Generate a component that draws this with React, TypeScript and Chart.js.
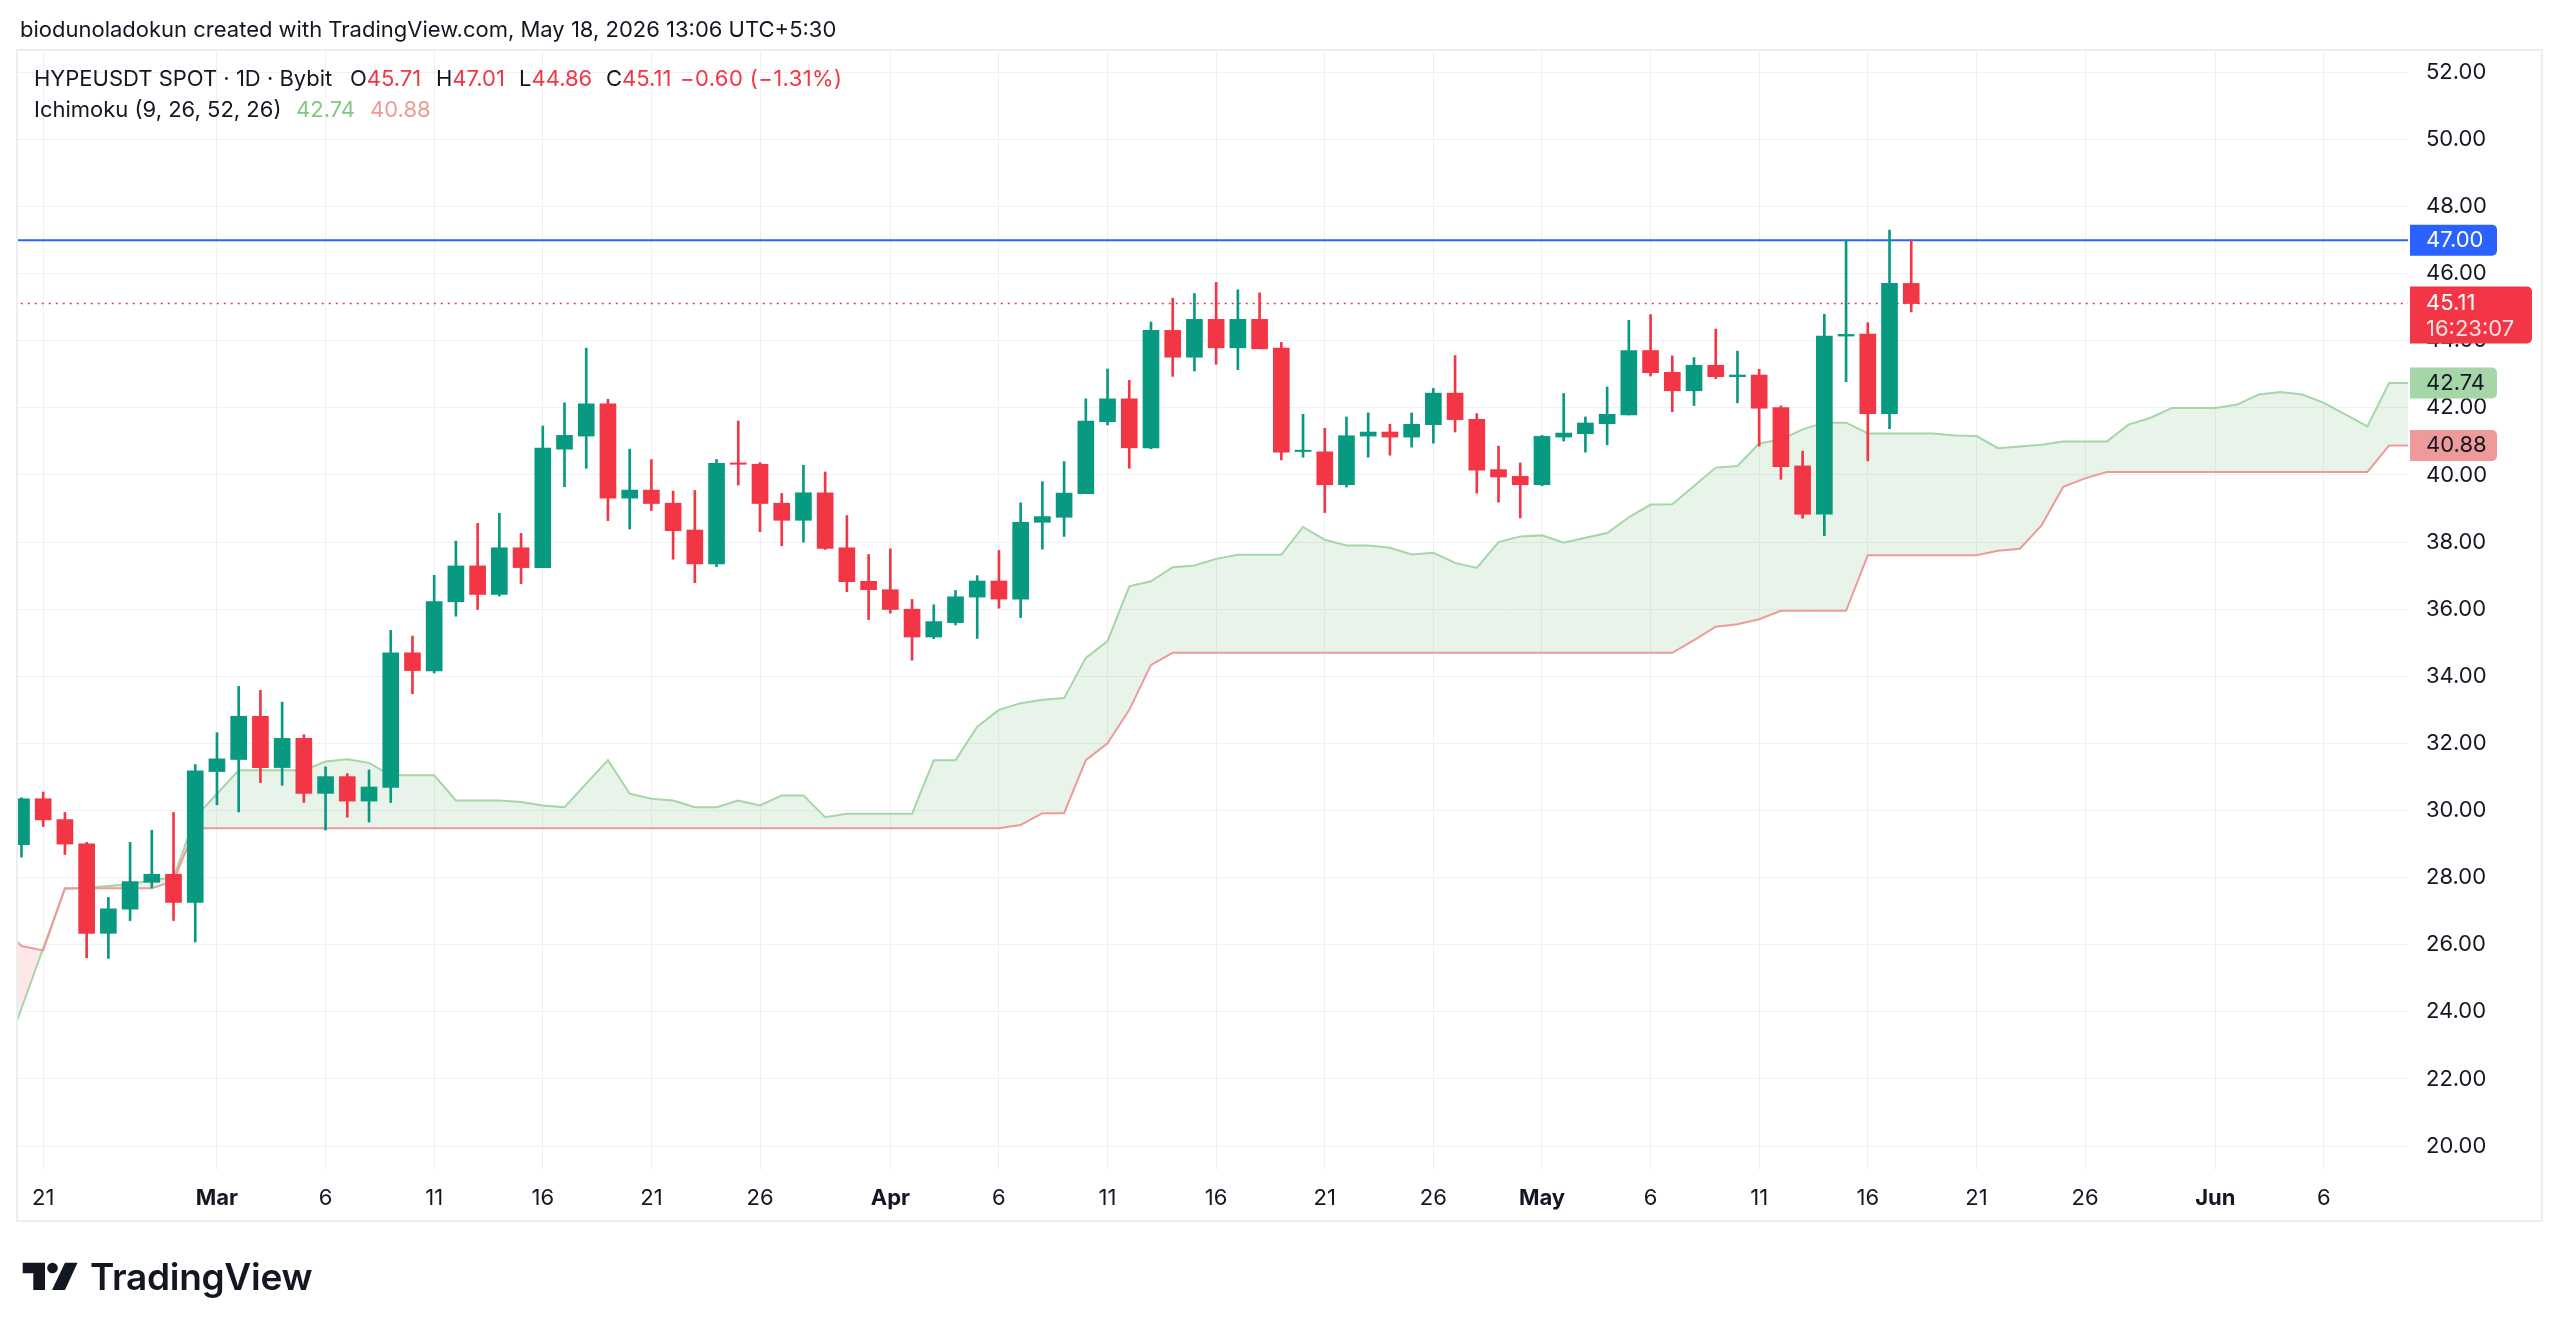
import React, { useEffect, useRef } from "react";
import { Chart, registerables } from "chart.js";

Chart.register(...registerables);

// ---------- DATA ----------
// Daily candles, day index 0 = Feb 20, 2026 ... 87 = May 18, 2026
const OPEN = [
  28.98, 30.35, 29.73, 29.01, 26.34, 27.06, 27.86, 28.10, 27.26, 31.16,
  31.52, 32.81, 31.28, 32.15, 30.51, 31.01, 30.28, 30.69, 34.70, 34.16,
  36.22, 37.29, 36.44, 37.83, 37.24, 40.77, 41.16, 42.12, 39.31, 39.55,
  39.16, 38.36, 37.35, 40.36, 40.32, 39.16, 38.65, 39.47, 37.83, 36.83,
  36.58, 36.00, 35.17, 35.60, 36.36, 36.84, 36.30, 38.59, 38.74, 39.44,
  41.59, 42.27, 40.81, 44.31, 43.51, 44.64, 43.79, 44.64, 43.78, 40.70,
  40.69, 39.71, 41.16, 41.28, 41.13, 41.50, 42.44, 41.66, 40.16, 39.96,
  39.71, 41.13, 41.23, 41.53, 41.79, 43.71, 43.06, 42.51, 43.27, 42.93,
  42.98, 42.01, 40.27, 38.83, 44.14, 44.20, 41.83, 45.71,
];
const HIGH = [
  30.38, 30.55, 29.94, 29.05, 27.41, 29.05, 29.41, 29.94, 31.37, 32.32,
  33.70, 33.58, 33.23, 32.26, 31.30, 31.10, 31.21, 35.37, 35.20, 37.01,
  38.03, 38.56, 38.86, 38.26, 41.46, 42.15, 43.78, 42.26, 40.77, 40.46,
  39.52, 39.54, 40.46, 41.61, 40.37, 39.45, 40.29, 40.09, 38.79, 37.63,
  37.80, 36.29, 36.13, 36.56, 37.00, 37.75, 39.17, 39.80, 40.40, 42.27,
  43.16, 42.82, 44.56, 45.27, 45.41, 45.74, 45.52, 45.43, 43.95, 41.81,
  41.39, 41.73, 41.85, 41.51, 41.85, 42.58, 43.56, 41.83, 40.86, 40.36,
  41.18, 42.43, 41.73, 42.62, 44.61, 44.78, 43.55, 43.50, 44.35, 43.69,
  43.15, 42.06, 40.71, 44.79, 47.00, 44.54, 47.30, 47.01,
];
const LOW = [
  28.61, 29.52, 28.69, 25.61, 25.59, 26.72, 27.69, 26.72, 26.08, 30.17,
  29.96, 30.83, 30.75, 30.24, 29.42, 29.80, 29.66, 30.24, 33.48, 34.10,
  35.79, 35.99, 36.39, 36.76, 37.24, 39.65, 40.20, 38.64, 38.39, 38.94,
  37.49, 36.79, 37.27, 39.70, 38.31, 37.89, 38.00, 37.78, 36.52, 35.69,
  35.88, 34.48, 35.12, 35.53, 35.13, 36.03, 35.75, 37.79, 38.17, 39.44,
  41.49, 40.20, 40.78, 42.94, 43.10, 43.30, 43.14, 43.76, 40.45, 40.53,
  38.88, 39.64, 40.53, 40.59, 40.83, 40.95, 41.28, 39.46, 39.19, 38.72,
  39.68, 41.01, 40.68, 40.90, 41.79, 42.95, 41.89, 42.07, 42.87, 42.15,
  40.86, 39.87, 38.71, 38.19, 42.78, 40.42, 41.38, 44.86,
];
const CLOSE = [
  30.35, 29.72, 29.00, 26.34, 27.07, 27.88, 28.10, 27.26, 31.18, 31.54,
  32.81, 31.28, 32.15, 30.51, 31.01, 30.28, 30.70, 34.70, 34.17, 36.23,
  37.29, 36.44, 37.83, 37.24, 40.80, 41.18, 42.12, 39.31, 39.55, 39.15,
  38.34, 37.35, 40.35, 40.32, 39.15, 38.65, 39.47, 37.81, 36.82, 36.58,
  35.99, 35.17, 35.63, 36.37, 36.84, 36.30, 38.59, 38.76, 39.46, 41.61,
  42.27, 40.81, 44.31, 43.51, 44.64, 43.79, 44.64, 43.76, 40.68, 40.74,
  39.71, 41.17, 41.28, 41.13, 41.51, 42.44, 41.65, 40.14, 39.94, 39.71,
  41.15, 41.25, 41.55, 41.81, 43.71, 43.05, 42.51, 43.27, 42.93, 42.98,
  41.99, 40.25, 38.83, 44.14, 44.19, 41.83, 45.71, 45.11,
];

// Ichimoku leading spans (already displaced), first value at day index -1
const CLOUD_START = -1;
const SPAN_A = [
  22.30, 24.10, 25.90, 27.66, 27.70, 27.75, 27.80, 27.92, 28.00, 29.80,
  30.50, 31.20, 31.20, 31.20, 31.20, 31.46, 31.53, 31.42, 31.05, 31.05,
  31.05, 30.30, 30.30, 30.30, 30.25, 30.15, 30.10, 30.80, 31.50, 30.50,
  30.35, 30.30, 30.10, 30.10, 30.30, 30.15, 30.45, 30.45, 29.80, 29.90,
  29.90, 29.90, 29.90, 31.50, 31.50, 32.50, 33.00, 33.20, 33.30, 33.35,
  34.55, 35.05, 36.68, 36.83, 37.25, 37.30, 37.50, 37.62, 37.62, 37.62,
  38.45, 38.07, 37.90, 37.90, 37.83, 37.63, 37.68, 37.38, 37.23, 38.00,
  38.17, 38.20, 37.98, 38.13, 38.27, 38.74, 39.12, 39.13, 39.67, 40.22,
  40.27, 40.94, 41.06, 41.36, 41.56, 41.56, 41.24, 41.24, 41.24, 41.24,
  41.18, 41.16, 40.80, 40.85, 40.90, 41.00, 41.00, 41.00, 41.50, 41.70,
  42.00, 42.00, 42.00, 42.10, 42.40, 42.47, 42.40, 42.15, 41.80, 41.45,
  42.74, 42.74, 42.74, 42.74,
];
const SPAN_B = [
  26.60, 25.96, 25.83, 27.68, 27.68, 27.68, 27.68, 27.68, 27.90, 29.47,
  29.47, 29.47, 29.47, 29.47, 29.47, 29.47, 29.47, 29.47, 29.47, 29.47,
  29.47, 29.47, 29.47, 29.47, 29.47, 29.47, 29.47, 29.47, 29.47, 29.47,
  29.47, 29.47, 29.47, 29.47, 29.47, 29.47, 29.47, 29.47, 29.47, 29.47,
  29.47, 29.47, 29.47, 29.47, 29.47, 29.47, 29.47, 29.57, 29.92, 29.92,
  31.50, 32.00, 33.00, 34.34, 34.70, 34.70, 34.70, 34.70, 34.70, 34.70,
  34.70, 34.70, 34.70, 34.70, 34.70, 34.70, 34.70, 34.70, 34.70, 34.70,
  34.70, 34.70, 34.70, 34.70, 34.70, 34.70, 34.70, 34.70, 35.08, 35.48,
  35.55, 35.70, 35.95, 35.95, 35.95, 35.95, 37.61, 37.61, 37.61, 37.61,
  37.61, 37.61, 37.74, 37.80, 38.50, 39.65, 39.90, 40.09, 40.09, 40.09,
  40.09, 40.09, 40.09, 40.09, 40.09, 40.09, 40.09, 40.09, 40.09, 40.09,
  40.88, 40.88, 40.88, 40.88,
];

const X_TICK_DAYS = [1, 9, 14, 19, 24, 29, 34, 40, 45, 50, 55, 60, 65, 70, 75, 80, 85, 90, 95, 101, 106];
const X_TICK_LABELS = ["21", "Mar", "6", "11", "16", "21", "26", "Apr", "6", "11", "16", "21", "26", "May", "6", "11", "16", "21", "26", "Jun", "6"];
const MONTH_LABELS = ["Mar", "Apr", "May", "Jun"];
const Y_TICKS = [20, 22, 24, 26, 28, 30, 32, 34, 36, 38, 40, 42, 44, 46, 48, 50, 52];

const RESISTANCE = 47.0;
const LAST_CLOSE = 45.11;
const COUNTDOWN = "16:23:07";
const SPAN_A_LAST = 42.74;
const SPAN_B_LAST = 40.88;

const X_MIN = -0.16;
const X_MAX = 109.87;
const Y_MIN = 19.285;
const Y_MAX = 52.667;

const UP = "#089981";
const DOWN = "#F23645";
const FONT = "Inter, 'Noto Sans', sans-serif";
const TEXT = "#131722";
const GRID = "#F0F1F3";

const overlayPlugin = {
  id: "overlay",
  afterDraw(chart: any) {
    const { ctx } = chart;
    const y = chart.scales.y;
    ctx.save();
    // frame
    ctx.strokeStyle = "#ECEEF1";
    ctx.lineWidth = 2;
    ctx.strokeRect(17, 50, 2525, 1171);

    const left = chart.chartArea.right + 2;
    const label = (value: number, bg: string, fg: string, w: number, lines: string[], h: number, topOff: number) => {
      const py = y.getPixelForValue(value);
      ctx.fillStyle = bg;
      ctx.beginPath();
      (ctx as any).roundRect(left, py - topOff, w, h, [0, 5, 5, 0]);
      ctx.fill();
      ctx.fillStyle = fg;
      ctx.font = `22px ${FONT}`;
      ctx.textAlign = "left";
      ctx.textBaseline = "middle";
      lines.forEach((t, i) => {
        if (i > 0) ctx.fillStyle = "rgba(255,255,255,0.85)";
        ctx.fillText(t, left + 16, py + i * 26);
      });
    };
    label(RESISTANCE, "#2962FF", "#FFFFFF", 87, [RESISTANCE.toFixed(2)], 31, 15.5);
    label(LAST_CLOSE, "#F23645", "#FFFFFF", 122, [LAST_CLOSE.toFixed(2), COUNTDOWN], 57, 17);
    label(SPAN_A_LAST, "#A5D6A7", TEXT, 87, [SPAN_A_LAST.toFixed(2)], 31, 15.5);
    label(SPAN_B_LAST, "#EF9A9A", TEXT, 87, [SPAN_B_LAST.toFixed(2)], 31, 15.5);
    ctx.restore();
  },
};

export default function App() {
  const ref = useRef<HTMLCanvasElement | null>(null);

  useEffect(() => {
    if (!ref.current) return;
    const colors = OPEN.map((o, i) => (CLOSE[i] >= o ? UP : DOWN));
    const wicks = OPEN.map((_, i) => ({ x: i, y: [LOW[i], HIGH[i]] }));
    const bodies = OPEN.map((o, i) => ({ x: i, y: [o, CLOSE[i]] }));
    const spanA = SPAN_A.map((v, i) => ({ x: CLOUD_START + i, y: v }));
    const spanB = SPAN_B.map((v, i) => ({ x: CLOUD_START + i, y: v }));
    const lastDay = CLOUD_START + SPAN_A.length - 1;

    const chart = new Chart(ref.current, {
      type: "line",
      data: {
        datasets: [
          {
            type: "line",
            label: "Leading Span A",
            data: spanA,
            borderColor: "#A5D6A7",
            borderWidth: 2,
            pointRadius: 0,
            tension: 0,
            fill: { target: 1, above: "rgba(67,160,71,0.12)", below: "rgba(244,67,54,0.12)" },
            order: 10,
          },
          {
            type: "line",
            label: "Leading Span B",
            data: spanB,
            borderColor: "#EF9A9A",
            borderWidth: 2,
            pointRadius: 0,
            tension: 0,
            fill: false,
            order: 9,
          },
          {
            type: "line",
            label: "Resistance",
            data: [
              { x: CLOUD_START, y: RESISTANCE },
              { x: lastDay, y: RESISTANCE },
            ],
            borderColor: "#2962FF",
            borderWidth: 2,
            pointRadius: 0,
            fill: false,
            order: 3,
          },
          {
            type: "line",
            label: "Last price",
            data: [
              { x: CLOUD_START, y: LAST_CLOSE },
              { x: lastDay, y: LAST_CLOSE },
            ],
            borderColor: "#F23645",
            borderWidth: 1.5,
            borderDash: [2, 5],
            pointRadius: 0,
            fill: false,
            order: 2,
          },
          {
            type: "bar",
            label: "Wicks",
            data: wicks as any,
            backgroundColor: colors,
            barThickness: 2,
            grouped: false,
            order: 1,
          },
          {
            type: "bar",
            label: "Bodies",
            data: bodies as any,
            backgroundColor: colors,
            barThickness: 16,
            grouped: false,
            order: 0,
          },
        ] as any,
      },
      options: {
        animation: false,
        responsive: false,
        devicePixelRatio: 1,
        events: [],
        layout: { padding: { left: 18, top: 50, right: 18, bottom: 112 } },
        plugins: { legend: { display: false }, tooltip: { enabled: false } },
        scales: {
          x: {
            type: "linear",
            min: X_MIN,
            max: X_MAX,
            offset: false,
            border: { display: false },
            grid: { color: GRID, lineWidth: 1, drawTicks: false, offset: false },
            afterBuildTicks: (s: any) => {
              s.ticks = X_TICK_DAYS.map((v) => ({ value: v }));
            },
            afterFit: (s: any) => {
              s.height = 51;
            },
            ticks: {
              autoSkip: false,
              maxRotation: 0,
              minRotation: 0,
              padding: 15,
              color: TEXT,
              font: (c: any) => {
                const lbl = X_TICK_LABELS[X_TICK_DAYS.indexOf(c.tick ? c.tick.value : -999)];
                return { family: FONT, size: 22, weight: MONTH_LABELS.includes(lbl) ? "bold" : "normal" };
              },
              callback: (v: any) => X_TICK_LABELS[X_TICK_DAYS.indexOf(Number(v))] ?? "",
            },
          },
          y: {
            type: "linear",
            position: "right",
            min: Y_MIN,
            max: Y_MAX,
            border: { display: false },
            grid: { color: GRID, lineWidth: 1, drawTicks: false },
            afterBuildTicks: (s: any) => {
              s.ticks = Y_TICKS.map((v) => ({ value: v }));
            },
            afterFit: (s: any) => {
              s.width = 134;
            },
            ticks: {
              autoSkip: false,
              padding: 18,
              color: TEXT,
              font: { family: FONT, size: 22 },
              callback: (v: any) => Number(v).toFixed(2),
            },
          },
        },
      } as any,
      plugins: [overlayPlugin],
    });
    return () => chart.destroy();
  }, []);

  const abs = (x: number, y: number, extra: any = {}) => ({
    position: "absolute" as const,
    left: x,
    top: y,
    whiteSpace: "pre" as const,
    lineHeight: "30px",
    fontFamily: FONT,
    fontSize: 22,
    color: TEXT,
    ...extra,
  });

  return (
    <div style={{ position: "fixed", left: 0, top: 0, width: 2560, height: 1333, background: "#fff", overflow: "hidden" }}>
      <canvas ref={ref} width={2560} height={1333} style={{ position: "absolute", left: 0, top: 0, width: 2560, height: 1333 }} />
      <div style={abs(20, 14)}>biodunoladokun created with TradingView.com, May 18, 2026 13:06 UTC+5:30</div>
      <div style={abs(34, 63)}>HYPEUSDT SPOT · 1D · Bybit</div>
      <div style={abs(350, 63)}>O<span style={{ color: DOWN }}>45.71</span></div>
      <div style={abs(436, 63)}>H<span style={{ color: DOWN }}>47.01</span></div>
      <div style={abs(519, 63)}>L<span style={{ color: DOWN }}>44.86</span></div>
      <div style={abs(606, 63)}>C<span style={{ color: DOWN }}>45.11</span></div>
      <div style={abs(680, 63, { color: DOWN, letterSpacing: "0.4px" })}>−0.60 (−1.31%)</div>
      <div style={abs(34, 94)}>Ichimoku (9, 26, 52, 26)</div>
      <div style={abs(296, 94, { color: "#81C784" })}>42.74</div>
      <div style={abs(370, 94, { color: "#EF9A9A" })}>40.88</div>
      <svg style={{ position: "absolute", left: 0, top: 1240 }} width={90} height={60} viewBox="0 0 90 60">
        <polygon points="22.7,22.7 45,22.7 45,50 33.3,50 33.3,33.3 22.7,33.3" fill="#131722" />
        <circle cx="52.5" cy="28" r="5.3" fill="#131722" />
        <polygon points="65,22.7 77.5,22.7 65,50 52,50" fill="#131722" />
      </svg>
      <div style={abs(90, 1255, { fontSize: 37, fontWeight: 600, lineHeight: "44px", letterSpacing: "-0.3px" })}>TradingView</div>
    </div>
  );
}
